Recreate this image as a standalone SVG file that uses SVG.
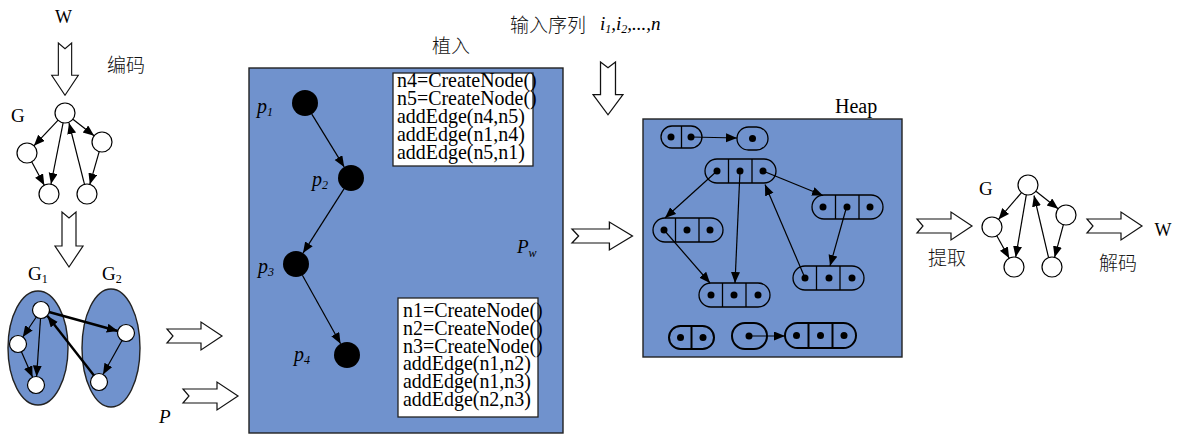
<svg xmlns="http://www.w3.org/2000/svg" width="1186" height="434" viewBox="0 0 1186 434">
  <style>
    .lbl { font-family: "Liberation Serif", "Times New Roman", serif; fill: #000; }
    .it { font-style: italic; }
    .cjk { font-family: "Liberation Serif", "Noto Sans CJK SC", sans-serif; font-size: 19px; font-weight: 300; fill: #111; }
    .code { font-family: "Liberation Serif", "Times New Roman", serif; font-size: 21px; fill: #000; }
    .node { fill: #fff; stroke: #000; stroke-width: 1.2; }
    .edge { stroke: #000; stroke-width: 1.2; fill: none; marker-end: url(#ah); }
    .thick { stroke-width: 2.4; }
    .panel { fill: #7092cd; stroke: #222; stroke-width: 1.4; }
    .blk { fill: #fff; stroke: #111; stroke-width: 1.2; }
    .cell { fill: none; stroke: #000; stroke-width: 1.3; }
    .cellb { fill: none; stroke: #000; stroke-width: 2; }
    .dot { fill: #000; }
    .pnode { fill: #000; }
    .box { fill: #fff; stroke: #222; stroke-width: 1.3; }
  </style>
  <defs>
    <marker id="ah" markerUnits="userSpaceOnUse" markerWidth="12" markerHeight="10" refX="11" refY="4.5" orient="auto">
      <path d="M0,0 L11,4.5 L0,9 Z" fill="#000"/>
    </marker>
    <!-- notched block arrow, pointing along +x, tail at origin -->
    <path id="blk" d="M0,-7 H34 V-14 L55,0 L34,14 V7 H0 L6,0 Z"/>
  </defs>

  <!-- block arrows -->
  <g id="block-arrows" class="blk">
    <use href="#blk" transform="translate(65,43) rotate(90) scale(0.95)"/>
    <use href="#blk" transform="translate(69,212) rotate(90)"/>
    <use href="#blk" transform="translate(608,62) rotate(90) scale(0.96,1.07)"/>
    <use href="#blk" transform="translate(167,336)"/>
    <use href="#blk" transform="translate(183,396)"/>
    <use href="#blk" transform="translate(572,236) scale(1.1,1)"/>
    <use href="#blk" transform="translate(917,226)"/>
    <use href="#blk" transform="translate(1087,226)"/>
  </g>

  <!-- text labels -->
  <g id="labels">
    <text class="lbl" x="63.5" y="23" font-size="18" text-anchor="middle">W</text>
    <text class="cjk" x="107" y="72">编码</text>
    <text class="lbl" x="11" y="122" font-size="19">G</text>
    <text class="lbl" x="28" y="280" font-size="19">G<tspan font-size="12" dy="3">1</tspan></text>
    <text class="lbl" x="102" y="280" font-size="19">G<tspan font-size="12" dy="3">2</tspan></text>
    <text class="lbl it" x="159" y="423" font-size="19">P</text>
    <text class="cjk" x="432" y="53">植入</text>
    <text class="cjk" x="510" y="32">输入序列</text>
    <text class="lbl it" x="600" y="30" font-size="19">i<tspan font-size="12" dy="3">1</tspan><tspan dy="-3">,i</tspan><tspan font-size="12" dy="3">2</tspan><tspan dy="-3">,...,n</tspan></text>
    <text class="lbl" x="835" y="113" font-size="20">Heap</text>
    <text class="cjk" x="928" y="265">提取</text>
    <text class="lbl" x="979" y="195" font-size="19">G</text>
    <text class="cjk" x="1099" y="270">解码</text>
    <text class="lbl" x="1163" y="236" font-size="18" text-anchor="middle">W</text>
  </g>

  <!-- encoded graph G (left) -->
  <g id="graph-g-left">
    <g id="gl-top"><circle class="node" cx="65" cy="113" r="10"/></g>
    <g id="gl-left"><circle class="node" cx="27" cy="153" r="10"/></g>
    <g id="gl-right"><circle class="node" cx="102" cy="142" r="10"/></g>
    <g id="gl-bl"><circle class="node" cx="49" cy="194" r="10"/></g>
    <g id="gl-br"><circle class="node" cx="87" cy="194" r="10"/></g>
  </g>

  <!-- split graph G1 / G2 -->
  <g id="g1"><ellipse class="panel" cx="38" cy="348" rx="30" ry="57"/></g>
  <g id="g2"><ellipse class="panel" cx="111" cy="348" rx="29" ry="59"/></g>
  <g id="split-nodes">
    <g id="g1-a"><circle class="node" cx="41" cy="310" r="8.5"/></g>
    <g id="g1-b"><circle class="node" cx="18" cy="344" r="8.5"/></g>
    <g id="g1-c"><circle class="node" cx="36" cy="385" r="8.5"/></g>
    <g id="g2-d"><circle class="node" cx="126" cy="333" r="8.5"/></g>
    <g id="g2-e"><circle class="node" cx="99" cy="382" r="8.5"/></g>
  </g>

  <!-- program panel -->
  <g id="panel-pw">
    <rect class="panel" x="249" y="68" width="314" height="365"/>
    <text class="lbl it" x="517" y="253" font-size="19">P<tspan font-size="12" dy="4">w</tspan></text>
  </g>
  <g id="code-top">
    <rect class="box" x="393" y="73" width="140" height="93"/>
    <g transform="translate(397,0) scale(0.95,1)" class="code">
      <text x="0" y="87">n4=CreateNode()</text>
      <text x="0" y="105">n5=CreateNode()</text>
      <text x="0" y="123">addEdge(n4,n5)</text>
      <text x="0" y="141">addEdge(n1,n4)</text>
      <text x="0" y="159">addEdge(n5,n1)</text>
    </g>
  </g>
  <g id="code-bottom">
    <rect class="box" x="398" y="298" width="140" height="119"/>
    <g transform="translate(403,0) scale(0.95,1)" class="code">
      <text x="0" y="317">n1=CreateNode()</text>
      <text x="0" y="335">n2=CreateNode()</text>
      <text x="0" y="353">n3=CreateNode()</text>
      <text x="0" y="370.5">addEdge(n1,n2)</text>
      <text x="0" y="388.5">addEdge(n1,n3)</text>
      <text x="0" y="406.5">addEdge(n2,n3)</text>
    </g>
  </g>
  <g id="p1"><circle class="pnode" cx="305" cy="103" r="13"/><text class="lbl it" x="257" y="113" font-size="20">p<tspan font-size="12" dy="3">1</tspan></text></g>
  <g id="p2"><circle class="pnode" cx="351" cy="178" r="13"/><text class="lbl it" x="312" y="186" font-size="20">p<tspan font-size="12" dy="3">2</tspan></text></g>
  <g id="p3"><circle class="pnode" cx="296" cy="264" r="13"/><text class="lbl it" x="258" y="273" font-size="20">p<tspan font-size="12" dy="3">3</tspan></text></g>
  <g id="p4"><circle class="pnode" cx="347" cy="355" r="13"/><text class="lbl it" x="294" y="361" font-size="20">p<tspan font-size="12" dy="3">4</tspan></text></g>

  <!-- heap panel -->
  <g id="heap"><rect class="panel" x="643" y="119" width="259" height="238"/></g>
  <g id="h1">
    <rect class="cell" x="661" y="126" width="41" height="22" rx="11"/>
    <line class="cell" x1="681.5" y1="126" x2="681.5" y2="148"/>
    <circle class="dot" cx="671" cy="137" r="3.5"/><circle class="dot" cx="691" cy="137" r="3.5"/>
  </g>
  <g id="h2">
    <rect class="cell" x="737" y="127" width="31" height="23" rx="11.5"/>
    <circle class="dot" cx="752.5" cy="138.5" r="3.5"/>
  </g>
  <g id="h3">
    <rect class="cell" x="705" y="159" width="71" height="24" rx="12"/>
    <line class="cell" x1="728.5" y1="159" x2="728.5" y2="183"/><line class="cell" x1="752" y1="159" x2="752" y2="183"/>
    <circle class="dot" cx="717" cy="171" r="3.5"/><circle class="dot" cx="740" cy="171" r="3.5"/><circle class="dot" cx="763" cy="171" r="3.5"/>
  </g>
  <g id="h4">
    <rect class="cell" x="812" y="195" width="71" height="24" rx="12"/>
    <line class="cell" x1="835.5" y1="195" x2="835.5" y2="219"/><line class="cell" x1="859" y1="195" x2="859" y2="219"/>
    <circle class="dot" cx="823" cy="207" r="3.5"/><circle class="dot" cx="847" cy="207" r="3.5"/><circle class="dot" cx="870" cy="207" r="3.5"/>
  </g>
  <g id="h5">
    <rect class="cell" x="653" y="218" width="70" height="24" rx="12"/>
    <line class="cell" x1="675.5" y1="218" x2="675.5" y2="242"/><line class="cell" x1="699" y1="218" x2="699" y2="242"/>
    <circle class="dot" cx="664" cy="230" r="3.5"/><circle class="dot" cx="687" cy="230" r="3.5"/><circle class="dot" cx="710" cy="230" r="3.5"/>
  </g>
  <g id="h6">
    <rect class="cell" x="699" y="283" width="71" height="24" rx="12"/>
    <line class="cell" x1="722.5" y1="283" x2="722.5" y2="307"/><line class="cell" x1="746" y1="283" x2="746" y2="307"/>
    <circle class="dot" cx="711" cy="295" r="3.5"/><circle class="dot" cx="734" cy="295" r="3.5"/><circle class="dot" cx="758" cy="295" r="3.5"/>
  </g>
  <g id="h7">
    <rect class="cell" x="793" y="266" width="71" height="24" rx="12"/>
    <line class="cell" x1="816.5" y1="266" x2="816.5" y2="290"/><line class="cell" x1="840" y1="266" x2="840" y2="290"/>
    <circle class="dot" cx="805" cy="278" r="3.5"/><circle class="dot" cx="829" cy="278" r="3.5"/><circle class="dot" cx="852" cy="278" r="3.5"/>
  </g>
  <g id="h8">
    <rect class="cellb" x="669" y="326" width="45" height="23" rx="11.5"/>
    <line class="cellb" x1="691.5" y1="326" x2="691.5" y2="349"/>
    <circle class="dot" cx="680.5" cy="337.5" r="3.5"/><circle class="dot" cx="703" cy="337.5" r="3.5"/>
  </g>
  <g id="h9">
    <rect class="cellb" x="732" y="323" width="35" height="26" rx="13"/>
    <circle class="dot" cx="749" cy="336" r="3.5"/>
  </g>
  <g id="h10">
    <rect class="cellb" x="785" y="323" width="71" height="25" rx="12.5"/>
    <line class="cellb" x1="808.5" y1="323" x2="808.5" y2="348"/><line class="cellb" x1="832.5" y1="323" x2="832.5" y2="348"/>
    <circle class="dot" cx="796.5" cy="335.5" r="3.5"/><circle class="dot" cx="820.5" cy="335.5" r="3.5"/><circle class="dot" cx="844" cy="335.5" r="3.5"/>
  </g>

  <!-- extracted graph G (right) -->
  <g id="graph-g-right">
    <g id="gr-top"><circle class="node" cx="1028" cy="185" r="10"/></g>
    <g id="gr-left"><circle class="node" cx="992" cy="227" r="10"/></g>
    <g id="gr-right"><circle class="node" cx="1066" cy="215" r="10"/></g>
    <g id="gr-bl"><circle class="node" cx="1014" cy="267" r="10"/></g>
    <g id="gr-br"><circle class="node" cx="1052" cy="267" r="10"/></g>
  </g>

  <!-- connectors -->
  <g id="connectors">
    <!-- graph G left -->
    <line class="edge" x1="58.1" y1="120.2" x2="33.9" y2="145.8"/>
    <line class="edge" x1="63.1" y1="122.8" x2="51" y2="184"/>
    <line class="edge" x1="84.5" y1="184.4" x2="69" y2="123"/>
    <line class="edge" x1="72.9" y1="119.2" x2="94.1" y2="135.8"/>
    <line class="edge" x1="99.2" y1="151.6" x2="89.8" y2="184.4"/>
    <line class="edge" x1="31.7" y1="161.8" x2="44.3" y2="185.2"/>
    <!-- G1 / G2 -->
    <line class="edge" x1="36.3" y1="317" x2="22.8" y2="337"/>
    <line class="edge" x1="40.5" y1="318.5" x2="36.6" y2="376.5"/>
    <line class="edge" x1="21.4" y1="351.8" x2="32.6" y2="377.2"/>
    <line class="edge thick" x1="49" y1="312" x2="117.8" y2="331"/>
    <line class="edge" x1="122" y1="340.5" x2="103" y2="374.5"/>
    <line class="edge thick" x1="94" y1="375.5" x2="47.5" y2="316"/>
    <!-- p chain -->
    <line class="edge" x1="311.8" y1="114.1" x2="344.2" y2="166.9"/>
    <line class="edge" x1="344" y1="188.9" x2="303" y2="253.1"/>
    <line class="edge" x1="302.4" y1="275.3" x2="340.6" y2="343.7"/>
    <!-- heap pointers -->
    <line class="edge" x1="691" y1="137" x2="737" y2="138"/>
    <line class="edge" x1="717" y1="171" x2="665" y2="218"/>
    <line class="edge" x1="740" y1="171" x2="735" y2="283"/>
    <line class="edge" x1="763" y1="171" x2="823" y2="195.5"/>
    <line class="edge" x1="805" y1="278" x2="765" y2="184.5"/>
    <line class="edge" x1="846" y1="209" x2="830" y2="266"/>
    <line class="edge" x1="664" y1="230" x2="710" y2="283"/>
    <line class="edge" x1="749" y1="336" x2="785" y2="336"/>
    <!-- graph G right -->
    <line class="edge" x1="1021.5" y1="192.6" x2="998.5" y2="219.4"/>
    <line class="edge" x1="1026.3" y1="194.9" x2="1015.7" y2="257.1"/>
    <line class="edge" x1="1048.5" y1="257.4" x2="1034" y2="195.5"/>
    <line class="edge" x1="1035.9" y1="191.2" x2="1058.1" y2="208.8"/>
    <line class="edge" x1="1063.4" y1="224.7" x2="1054.6" y2="257.3"/>
    <line class="edge" x1="996.8" y1="235.8" x2="1009.2" y2="258.2"/>
  </g>
</svg>
